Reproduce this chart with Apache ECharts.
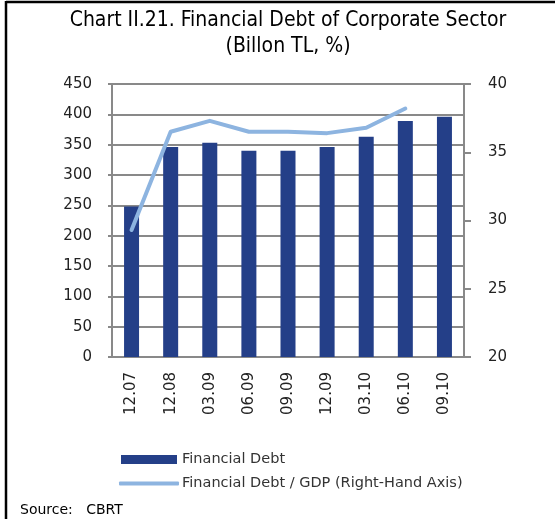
<!DOCTYPE html>
<html>
<head>
<meta charset="utf-8">
<script src="https://cdn.jsdelivr.net/npm/echarts@6/dist/echarts.min.js"></script>
<style>
  html, body { margin: 0; padding: 0; background: #fff; }
  #chart { width: 555px; height: 519px; }
</style>
</head>
<body>
<div id="chart"></div>
<script>
// Quarter-end labels
const periods = ['12.07', '12.08', '03.09', '06.09', '09.09', '12.09', '03.10', '06.10', '09.10'];
// Financial debt, billion TL
const financialDebt = [248, 346, 353, 340, 340, 346, 363, 389, 396];
// Financial debt as share of GDP, %
const debtToGdp = [29.3, 36.5, 37.3, 36.5, 36.5, 36.4, 36.8, 38.2, null];

const leftTicks = { min: 0, max: 450, interval: 50 };
const rightTicks = { min: 20, max: 40, interval: 5 };

const axisGray = '#898989';
const barBlue = '#243f88';
const lineBlue = '#8db4e0';
const labelFont = 'DejaVu Sans';

const chart = echarts.init(document.getElementById('chart'), null, { renderer: 'canvas' });

chart.setOption({
  animation: false,
  backgroundColor: '#ffffff',
  grid: { left: 112, right: 91, top: 84, bottom: 162, containLabel: false },
  title: {
    text: 'Chart II.21. Financial Debt of Corporate Sector\n(Billon TL, %)',
    left: 283,
    textAlign: 'center',
    top: 3,
    textStyle: {
      fontFamily: 'Liberation Sans Narrow, DejaVu Sans Condensed',
      fontSize: 21,
      fontWeight: 'normal',
      color: '#000',
      lineHeight: 26
    }
  },
  legend: [
    {
      data: [{ name: 'Financial Debt', icon: 'rect' }],
      orient: 'vertical',
      left: 116,
      top: 447,
      itemWidth: 56,
      itemHeight: 9,
      textStyle: { fontFamily: labelFont, fontSize: 14.5, color: '#333' }
    },
    {
      data: [{ name: 'Financial Debt / GDP (Right-Hand Axis)', icon: 'roundRect' }],
      orient: 'vertical',
      left: 114,
      top: 471,
      itemWidth: 60,
      itemHeight: 4,
      textStyle: { fontFamily: labelFont, fontSize: 14.5, color: '#333', padding: [0, 0, 0, -2] }
    }
  ],
  xAxis: {
    type: 'category',
    data: periods,
    boundaryGap: true,
    axisLine: { lineStyle: { color: axisGray, width: 2 } },
    axisTick: { show: false },
    axisLabel: {
      rotate: 90,
      margin: 15,
      fontFamily: labelFont,
      fontSize: 15,
      color: '#222'
    }
  },
  yAxis: [
    {
      type: 'value',
      min: leftTicks.min,
      max: leftTicks.max,
      interval: leftTicks.interval,
      axisLine: { show: true, lineStyle: { color: axisGray, width: 2 } },
      axisTick: { show: true, length: 4, lineStyle: { color: axisGray, width: 2 } },
      splitLine: { show: true, lineStyle: { color: axisGray, width: 2 } },
      axisLabel: { margin: 20, fontFamily: labelFont, fontSize: 15, color: '#222' }
    },
    {
      type: 'value',
      position: 'right',
      min: rightTicks.min,
      max: rightTicks.max,
      interval: rightTicks.interval,
      axisLine: { show: true, lineStyle: { color: axisGray, width: 2 } },
      axisTick: { show: true, length: 7, lineStyle: { color: axisGray, width: 2 } },
      splitLine: { show: false },
      axisLabel: { margin: 24, fontFamily: labelFont, fontSize: 15, color: '#222' }
    }
  ],
  series: [
    {
      name: 'Financial Debt',
      type: 'bar',
      data: financialDebt,
      barWidth: 15,
      itemStyle: { color: barBlue },
      yAxisIndex: 0,
      z: 2
    },
    {
      name: 'Financial Debt / GDP (Right-Hand Axis)',
      type: 'line',
      data: debtToGdp,
      yAxisIndex: 1,
      showSymbol: false,
      symbol: 'none',
      lineStyle: { color: lineBlue, width: 4, cap: 'round', join: 'round' },
      itemStyle: { color: lineBlue },
      z: 3
    }
  ],
  graphic: [
    // page frame (top and left rules)
    { type: 'line', shape: { x1: 6, y1: 2, x2: 555, y2: 2 }, style: { stroke: '#000', lineWidth: 2.5 } },
    { type: 'line', shape: { x1: 6, y1: 1, x2: 6, y2: 519 }, style: { stroke: '#000', lineWidth: 2.5 } },
    {
      type: 'text',
      left: 20,
      top: 503,
      style: {
        text: 'Source:   CBRT',
        font: '14px "DejaVu Sans"',
        fill: '#000'
      }
    }
  ]
});
</script>
</body>
</html>
